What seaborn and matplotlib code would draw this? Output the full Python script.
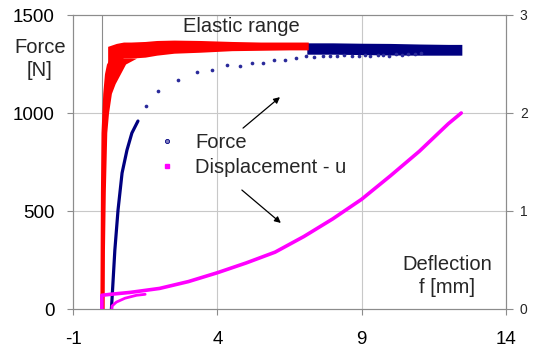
import numpy as np
import pandas as pd
import matplotlib
matplotlib.use("Agg")
import matplotlib.pyplot as plt
import seaborn as sns
from matplotlib.lines import Line2D

# --- data ---
# red force cloud, rising part (x spread at each force level)
red_rise_f = [0, 300, 600, 900, 1000, 1100, 1150, 1200, 1250, 1280]
red_rise_left = [-0.07, -0.06, -0.05, -0.03, 0.0, 0.03, 0.06, 0.09, 0.16, 0.28]
red_rise_right = [0.08, 0.09, 0.12, 0.17, 0.23, 0.33, 0.46, 0.64, 0.82, 1.20]
# red force cloud, plateau (force spread at each x)
red_x = [0.2, 0.5, 0.75, 1.0, 1.5, 1.9, 2.5, 3.4, 4.5, 5.5, 6.5, 7.15]
red_lo = [1255, 1265, 1280, 1280, 1285, 1295, 1305, 1310, 1318, 1320, 1322, 1322]
red_hi = [1340, 1355, 1362, 1362, 1365, 1370, 1372, 1370, 1365, 1362, 1362, 1362]

# blue force, dense band at the end
blue_band_x = [7.1, 8, 9, 10, 11, 12, 12.47]
blue_band_lo = [1300, 1300, 1298, 1296, 1295, 1295, 1295]
blue_band_hi = [1358, 1358, 1356, 1355, 1352, 1350, 1350]
# blue force, steep start
blue_x = [0.33, 0.35, 0.45, 0.56, 0.70, 0.87, 1.04, 1.25]
blue_f = [0, 46, 301, 505, 694, 811, 898, 959]
# blue force, sparse dots
dots_x = [1.53, 1.95, 2.64, 3.3, 3.8, 4.33, 4.78, 5.2, 5.58, 5.96, 6.34, 6.72,
          7.07, 7.35, 7.65, 7.9, 8.15, 8.4, 8.65, 8.9, 9.1, 9.3, 9.55, 9.75,
          9.95, 10.2, 10.4, 10.6, 10.85, 11.05]
dots_f = [1035, 1112, 1168, 1209, 1219, 1244, 1239, 1255, 1255, 1270, 1270, 1280,
          1290, 1285, 1290, 1292, 1290, 1295, 1290, 1292, 1295, 1290, 1295, 1298,
          1292, 1300, 1295, 1300, 1300, 1305]

# displacement u (right axis)
u_x = [0.0, 0.0, 0.3, 1.0, 2.0, 3.0, 4.0, 5.0, 6.0, 7.0, 8.0, 9.0, 10.0, 11.0, 12.0, 12.45]
u_val = [0.0, 0.14, 0.15, 0.17, 0.21, 0.28, 0.37, 0.47, 0.58, 0.74, 0.92, 1.12, 1.36, 1.61, 1.89, 2.0]
u2_x = [0.35, 0.35, 0.5, 0.8, 1.2, 1.5]
u2_val = [0.0, 0.03, 0.07, 0.11, 0.14, 0.15]

x_ticks = [-1, 4, 9, 14]
y_ticks = [0, 500, 1000, 1500]
y2_ticks = [0, 1, 2, 3]

navy = "#000080"
red = "#ff0000"
magenta = "#ff00ff"
grid_c = "#c8c8c8"
spine_c = "#8c8c8c"

sns.set_style("white")
plt.rcParams['font.family'] = ['Liberation Sans', 'DejaVu Sans']
plt.rcParams['axes.unicode_minus'] = False

fig = plt.figure(figsize=(5.34, 3.52), dpi=100)
ax = fig.add_axes([73/534, 1-309/352, 433/534, 294/352])

ax.set_xlim(-1, 14)
ax.set_ylim(0, 1500)
ax.set_xticks(x_ticks)
ax.set_yticks(y_ticks)
for v in [4, 9]:
    ax.axvline(v, color=grid_c, lw=0.8, zorder=0)
for v in [500, 1000]:
    ax.axhline(v, color=grid_c, lw=0.8, zorder=0)
ax.axvline(0, color=spine_c, lw=0.8, zorder=0)

# blue band first, red cloud covers its start
ax.fill_between(blue_band_x, blue_band_lo, blue_band_hi, color=navy, lw=0, zorder=2)
ax.fill_betweenx(red_rise_f, red_rise_left, red_rise_right, color=red, lw=0, zorder=3)
ax.fill_between(red_x, red_lo, red_hi, color=red, lw=0, zorder=3)

df_blue = pd.DataFrame({'x': blue_x, 'f': blue_f})
sns.lineplot(data=df_blue, x='x', y='f', color=navy, lw=2.3, sort=False,
             estimator=None, ax=ax, zorder=2)
df_dots = pd.DataFrame({'x': dots_x, 'f': dots_f})
sns.scatterplot(data=df_dots, x='x', y='f', color="#2a2a9a", s=7, linewidth=0,
                ax=ax, zorder=2)

ax.set_xlabel("")
ax.set_ylabel("")
for s in ax.spines.values():
    s.set_color(spine_c)
    s.set_linewidth(0.8)
ax.tick_params(axis='both', which='both', direction='out', length=4, width=0.8,
               color=spine_c, labelsize=13.5, labelcolor='black')
ax.tick_params(axis='x', pad=12, bottom=True)
ax.tick_params(axis='y', pad=9, left=True)

ax2 = ax.twinx()
ax2.set_ylim(0, 3)
ax2.set_yticks(y2_ticks)
df_u = pd.DataFrame({'x': u_x, 'u': u_val})
sns.lineplot(data=df_u, x='x', y='u', color=magenta, lw=2.6, sort=False,
             estimator=None, ax=ax2, zorder=4)
df_u2 = pd.DataFrame({'x': u2_x, 'u': u2_val})
sns.lineplot(data=df_u2, x='x', y='u', color=magenta, lw=2.0, sort=False,
             estimator=None, ax=ax2, zorder=4)
ax2.set_ylabel("")
ax2.set_xlabel("")
for s in ax2.spines.values():
    s.set_color(spine_c)
    s.set_linewidth(0.8)
ax2.tick_params(axis='y', direction='out', length=5, width=0.8, color=spine_c,
                labelsize=10, pad=5, right=True)

# annotations
ax.text(4.82, 1443, "Elastic range", fontsize=14.5, ha='center', va='center')
ax.annotate("", xy=(6.17, 1081), xytext=(4.89, 923),
            arrowprops=dict(arrowstyle='-|>', color='black', lw=0.9,
                            mutation_scale=9, shrinkA=0, shrinkB=0))
ax.annotate("", xy=(6.2, 439), xytext=(4.85, 607),
            arrowprops=dict(arrowstyle='-|>', color='black', lw=0.9,
                            mutation_scale=9, shrinkA=0, shrinkB=0))

fig.text(40/534, 1-59/352, "Force\n[N]", fontsize=14.5, ha='center', va='center',
         multialignment='center', linespacing=1.25)
fig.text(447/534, 1-276/352, "Deflection\nf [mm]", fontsize=14.5, ha='center',
         va='center', multialignment='center', linespacing=1.3)

handles = [Line2D([], [], ls='none', marker='o', ms=3, mfc='#8080c0', mec=navy, mew=0.6),
           Line2D([], [], ls='none', marker='s', ms=3, mfc=magenta, mec=magenta)]
leg = ax.legend(handles, ["Force", "Displacement - u"], loc='upper left',
                bbox_to_anchor=(155/534, 1-133/352), bbox_transform=fig.transFigure,
                frameon=False, fontsize=14.5, handlelength=1.2, handletextpad=0.8,
                labelspacing=0.3, borderpad=0, borderaxespad=0)
leg.set_zorder(10)

fig.savefig("out.png", dpi=100)
